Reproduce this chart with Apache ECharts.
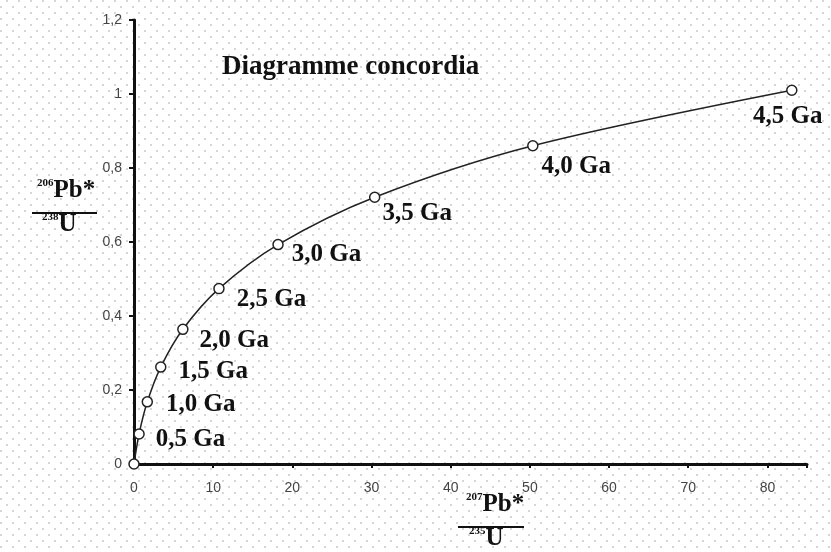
<!DOCTYPE html>
<html>
<head>
<meta charset="utf-8">
<script src="https://cdn.jsdelivr.net/npm/echarts@6/dist/echarts.min.js"></script>
<style>
  html, body { margin: 0; padding: 0; background: #fff; }
  #chart {
    width: 831px; height: 552px;
    background-color: #fff;
    background-image:
      radial-gradient(circle, #d6d6d6 0.8px, rgba(255,255,255,0) 1.2px),
      radial-gradient(circle, #d6d6d6 0.8px, rgba(255,255,255,0) 1.2px);
    background-size: 12px 12px, 12px 12px;
    background-position: -5px 1px, 1px -5px;
  }
</style>
</head>
<body>
<div id="chart"></div>
<script>
// Concordia points: 207Pb*/235U (x) and 206Pb*/238U (y)
const ageLabels = ['', '0,5 Ga', '1,0 Ga', '1,5 Ga', '2,0 Ga', '2,5 Ga', '3,0 Ga', '3,5 Ga', '4,0 Ga', '4,5 Ga'];
const ratio207_235 = [0, 0.64, 1.68, 3.38, 6.17, 10.73, 18.19, 30.40, 50.37, 83.08];
const ratio206_238 = [0, 0.081, 0.168, 0.262, 0.364, 0.474, 0.593, 0.721, 0.860, 1.010];
const xTicks = [0, 10, 20, 30, 40, 50, 60, 70, 80];
const yTicks = [0, 0.2, 0.4, 0.6, 0.8, 1, 1.2];
const titleText = 'Diagramme concordia';

// label placement (style only)
const labelOffsets = [[0,0],[6,6],[8,3],[7,4],[6,11],[7,11],[3,10],[-3,16],[-2,21],[0,0]];

const serif = '"Liberation Serif", "Times New Roman", serif';
const sans = '"Liberation Sans", Arial, sans-serif';

const data = ratio207_235.map((x, i) => {
  const item = { value: [x, ratio206_238[i]], name: ageLabels[i] };
  if (i === ratio207_235.length - 1) {
    item.label = { position: 'bottom', offset: [-4, 3] };
  } else {
    item.label = { position: 'right', offset: labelOffsets[i] };
  }
  return item;
});

const chart = echarts.init(document.getElementById('chart'), null, { renderer: 'canvas' });
chart.setOption({
  backgroundColor: 'transparent',
  animation: false,
  grid: { left: 134, right: 24, top: 20, bottom: 88 },
  xAxis: {
    type: 'value', min: 0, max: 85, interval: 10,
    axisLine: { show: true, onZero: false, lineStyle: { color: '#111', width: 3 } },
    axisTick: { show: true, length: 4, inside: false, lineStyle: { color: '#111', width: 2 } },
    axisLabel: {
      color: '#444', fontFamily: sans, fontSize: 14, margin: 17,
      formatter: v => (xTicks.indexOf(v) >= 0 ? String(v) : '')
    },
    splitLine: { show: false }
  },
  yAxis: {
    type: 'value', min: 0, max: 1.2, interval: 0.2,
    axisLine: { show: true, onZero: false, lineStyle: { color: '#111', width: 3 } },
    axisTick: { show: true, length: 5, lineStyle: { color: '#111', width: 2 } },
    axisLabel: {
      color: '#444', fontFamily: sans, fontSize: 14, margin: 12,
      formatter: v => {
        const t = yTicks.find(k => Math.abs(k - v) < 1e-9);
        return t === undefined ? '' : String(t).replace('.', ',');
      }
    },
    splitLine: { show: false }
  },
  title: {
    text: titleText, left: 217, top: 49,
    textStyle: { fontFamily: serif, fontWeight: 'bold', fontSize: 27, color: '#111' }
  },
  series: [{
    type: 'line',
    data: data,
    smooth: 0.3,
    symbol: 'circle',
    symbolSize: 10,
    itemStyle: { color: '#fff', borderColor: '#222', borderWidth: 1.5 },
    lineStyle: { color: '#222', width: 1.5 },
    label: {
      show: true,
      formatter: p => p.name,
      fontFamily: serif, fontWeight: 'bold', fontSize: 25, color: '#111'
    },
    z: 3
  }],
  graphic: [
    { type: 'text', left: 37, top: 178,
      style: { text: '{s|206}{b|Pb*}', rich: {
        s: { fontFamily: serif, fontWeight: 'bold', fontSize: 11, verticalAlign: 'top', fill: '#111', padding: [0,0,12,0] },
        b: { fontFamily: serif, fontWeight: 'bold', fontSize: 25, fill: '#111' } } } },
    { type: 'rect', shape: { x: 32, y: 212, width: 65, height: 2 }, style: { fill: '#111' } },
    { type: 'text', left: 42, top: 212,
      style: { text: '{s|238}{b|U}', rich: {
        s: { fontFamily: serif, fontWeight: 'bold', fontSize: 11, verticalAlign: 'top', fill: '#111', padding: [0,0,12,0] },
        b: { fontFamily: serif, fontWeight: 'bold', fontSize: 25, fill: '#111' } } } },
    { type: 'text', left: 466, top: 492,
      style: { text: '{s|207}{b|Pb*}', rich: {
        s: { fontFamily: serif, fontWeight: 'bold', fontSize: 11, verticalAlign: 'top', fill: '#111', padding: [0,0,12,0] },
        b: { fontFamily: serif, fontWeight: 'bold', fontSize: 25, fill: '#111' } } } },
    { type: 'rect', shape: { x: 458, y: 526, width: 66, height: 2 }, style: { fill: '#111' } },
    { type: 'text', left: 469, top: 526,
      style: { text: '{s|235}{b|U}', rich: {
        s: { fontFamily: serif, fontWeight: 'bold', fontSize: 11, verticalAlign: 'top', fill: '#111', padding: [0,0,12,0] },
        b: { fontFamily: serif, fontWeight: 'bold', fontSize: 25, fill: '#111' } } } }
  ]
});
</script>
</body>
</html>
